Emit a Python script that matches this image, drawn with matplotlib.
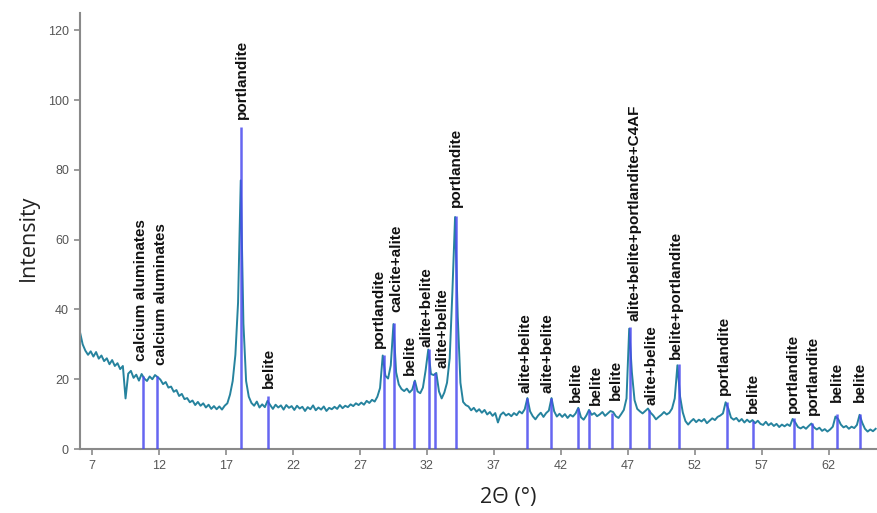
import numpy as np
import matplotlib.pyplot as plt

# diffractogram, sampled every 0.2 deg from 6.1 to 65.5
two_theta = np.linspace(6.1, 65.5, 298)
intensity = [
    33.5, 30.0, 28.2, 27.0, 28.0,
    26.5, 27.8, 25.9, 26.8, 25.2,
    26.0, 24.3, 25.5, 23.8, 24.6,
    22.9, 23.8, 14.5, 21.6, 22.4,
    20.4, 21.3, 19.6, 21.5, 20.2,
    19.5, 20.8, 20.0, 21.2, 20.6,
    19.9, 18.6, 19.2, 17.6, 17.9,
    16.4, 16.9, 15.2, 15.8, 14.3,
    14.6, 13.4, 13.9, 12.6, 13.5,
    12.4, 13.1, 11.9, 12.7, 11.5,
    12.3, 11.4, 12.2, 11.3, 12.4,
    13.1, 15.6, 19.5, 27.0, 42.0,
    77.0, 36.0, 19.5, 15.0, 13.2,
    12.4, 13.6, 11.9, 12.8, 12.0,
    13.8, 12.6, 11.5, 12.7, 11.9,
    12.5, 11.3, 12.6, 11.8, 12.3,
    11.2, 12.4, 11.6, 12.1, 10.9,
    12.0, 11.4, 12.5, 11.1, 11.9,
    11.3, 12.2, 10.9, 11.8, 11.4,
    12.1, 11.5, 12.6, 11.7, 12.4,
    12.0, 12.8, 12.3, 13.1, 12.6,
    13.3, 12.7, 13.8, 13.2, 14.1,
    13.6, 15.0, 17.5, 26.8, 21.0,
    20.2, 24.0, 35.8, 22.0, 18.5,
    17.2, 16.6, 17.3, 16.2, 17.0,
    19.6, 16.5, 16.0, 17.6, 22.5,
    28.5, 21.5, 21.2, 21.8, 16.5,
    14.5, 16.2, 19.0, 26.0, 45.0,
    66.5, 38.0, 19.0, 13.5, 12.6,
    12.2, 11.1, 11.8, 10.7, 11.4,
    10.4, 11.2, 9.9, 10.6, 9.5,
    10.3, 7.6, 9.8, 10.5, 9.6,
    10.1, 9.4, 10.3, 9.7, 10.8,
    10.2, 11.4, 14.6, 10.8, 9.4,
    8.5, 9.6, 10.4, 9.2, 10.3,
    11.0, 14.6, 10.8, 9.3, 10.1,
    9.2, 10.0, 8.9, 9.8, 9.3,
    10.2, 11.8, 9.1, 8.4, 9.6,
    11.2, 9.8, 10.3, 9.4, 9.9,
    10.6, 9.5, 10.2, 10.9, 10.6,
    9.4, 8.9, 10.0, 11.2, 14.5,
    34.5, 22.0, 14.0, 11.5, 10.8,
    10.2, 10.9, 11.6, 10.4, 9.6,
    8.5, 9.2, 9.8, 10.6, 9.9,
    10.4, 11.6, 14.5, 24.0, 15.0,
    10.5, 8.0, 7.0, 7.9, 8.6,
    7.7, 8.4, 7.9, 8.6, 7.4,
    8.1, 8.8, 8.3, 9.2, 9.6,
    10.2, 13.4, 11.6, 9.0, 8.4,
    8.9, 7.9, 8.6, 7.6, 8.4,
    7.7, 8.3, 7.4, 8.1, 7.2,
    6.9, 7.8, 6.8, 7.4, 6.6,
    7.2, 6.3, 7.0, 6.5, 7.1,
    6.6, 8.6, 7.6, 6.3, 5.9,
    6.4, 5.8, 6.6, 7.3, 6.2,
    5.6, 6.1, 5.2, 5.7, 5.0,
    5.6, 6.4, 9.3, 8.6, 7.0,
    6.2, 6.6, 5.8, 6.4, 6.0,
    6.9, 9.8, 7.5, 5.8, 5.0,
    5.6, 5.1, 5.8,
]

# identified phases
peak_pos = [10.83, 11.88, 18.11, 20.17, 28.78, 29.53, 31.03, 32.15, 32.62, 34.16,
            39.49, 41.23, 43.27, 44.07, 45.81, 47.18, 48.60, 50.79, 54.40, 56.34,
            59.43, 60.75, 62.61, 64.30]
peak_height = [21.0, 21.0, 92.3, 15.2, 27.0, 36.0, 19.5, 28.6, 21.9, 66.9,
               14.7, 14.7, 11.7, 11.2, 10.4, 34.9, 11.2, 24.3, 13.6, 8.0,
               8.8, 7.4, 10.0, 10.0]
phases = ['calcium aluminates', 'calcium aluminates', 'portlandite', 'belite',
          'portlandite', 'calcite+alite', 'belite', 'alite+belite', 'alite+belite',
          'portlandite', 'alite+belite', 'alite+belite', 'belite', 'belite', 'belite',
          'alite+belite+portlandite+C4AF', 'alite+belite', 'belite+portlandite',
          'portlandite', 'belite', 'portlandite', 'portlandite', 'belite', 'belite']

x_ticks = [7, 12, 17, 22, 27, 32, 37, 42, 47, 52, 57, 62]
y_ticks = [0, 20, 40, 60, 80, 100, 120]

# label nudges in pixels: (sideways shift, gap above the stick)
label_shift = [(-2, 15), (4, 11), (1, 8), (0, 8), (-5, 7), (3, 11), (-4, 6), (-2, 2),
               (7, 5), (0, 9), (-2, 5), (-3, 5), (-2, 6), (7, 5), (4, 13), (4, 6),
               (2, 5), (-3, 5), (-3, 7), (0, 8), (-1, 5), (1, 8), (0, 12), (0, 12)]

W, H = 877, 513
fig = plt.figure(figsize=(W / 100, H / 100), dpi=100)
ax = fig.add_axes([80 / W, 64 / H, 797 / W, 436 / H])

ax.plot(two_theta, intensity, color='#26839e', lw=1.4, zorder=2)
ax.vlines(peak_pos, 0, peak_height, color='#4b4bef', lw=1.8, alpha=0.85, zorder=3)

px = 0.72  # points per pixel at 100 dpi
for x, h, name, (dx, gap) in zip(peak_pos, peak_height, phases, label_shift):
    ax.annotate(name, (x, h), xytext=(dx * px, gap * px), textcoords='offset points',
                rotation=90, ha='center', va='bottom', fontsize=11,
                fontweight='bold', family=['Liberation Sans', 'DejaVu Sans'],
                color='#111111')

ax.set_xlim(6.1, 65.6)
ax.set_ylim(0, 125)
ax.set_xticks(x_ticks)
ax.set_yticks(y_ticks)

for side in ['top', 'right']:
    ax.spines[side].set_visible(False)
for side in ['left', 'bottom']:
    ax.spines[side].set_color('#8a8a8a')
    ax.spines[side].set_linewidth(1.5)

ax.tick_params(direction='out', length=4, width=1.2, color='#8a8a8a',
               labelcolor='#555555', labelsize=9, pad=4)
for lab in ax.get_xticklabels() + ax.get_yticklabels():
    lab.set_family(['Liberation Sans Narrow', 'Liberation Sans', 'DejaVu Sans'])

fig.text(28 / W, 1 - 238 / H, 'Intensity', rotation=90, ha='center', va='center',
         fontsize=15.5, family=['Open Sans', 'DejaVu Sans'], color='#222222')
fig.text(508 / W, 1 - 497 / H, '2\u0398 (\u00b0)', ha='center', va='center',
         fontsize=15.5, family=['Open Sans', 'DejaVu Sans'], color='#222222')

fig.savefig('out.png', dpi=100)
